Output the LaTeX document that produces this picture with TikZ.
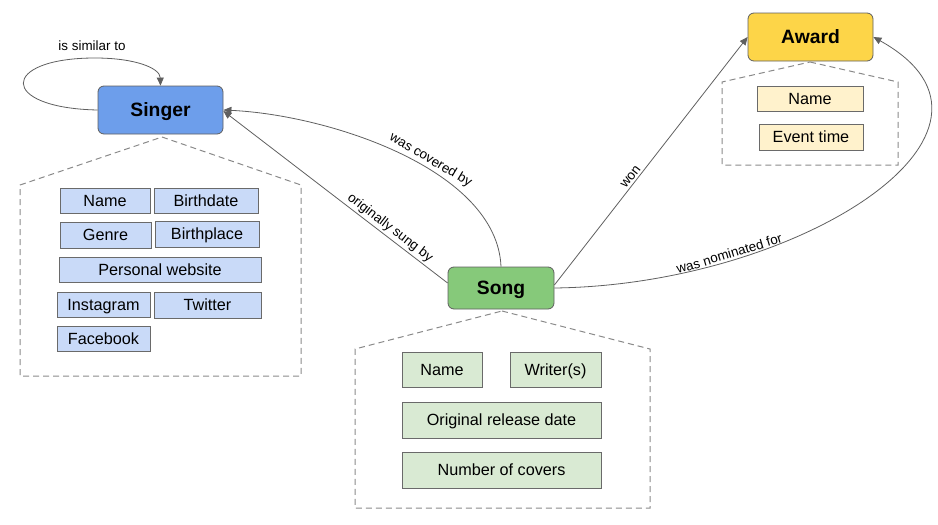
\documentclass[tikz,border=0pt]{standalone}
\usepackage{fontspec}
\setmainfont{Liberation Sans}
\usetikzlibrary{arrows.meta}
\definecolor{singerblue}{HTML}{6D9EEB}
\definecolor{songgreen}{HTML}{86C97A}
\definecolor{awardyellow}{HTML}{FDD548}
\definecolor{sattr}{HTML}{C9DAF8}
\definecolor{gattr}{HTML}{D9EAD3}
\definecolor{aattr}{HTML}{FFF2CC}
\definecolor{linegray}{HTML}{5F5F5F}
\definecolor{housegray}{HTML}{8A8A8A}
\definecolor{attrborder}{HTML}{6A6A6A}
\begin{document}
\begin{tikzpicture}[x=1pt,y=-1pt,
  mainnode/.style={draw=linegray, rounded corners=6pt, line width=0.8pt, inner sep=0pt,
    text height=13.8pt, text depth=0pt,
    font=\bfseries\fontsize{19.3}{21}\selectfont},
  attr/.style={draw=attrborder, line width=0.9pt, inner sep=0pt,
    text height=11.6pt, text depth=0pt,
    font=\fontsize{16.2}{18}\selectfont},
  edge/.style={draw=linegray, line width=0.8pt, -{Triangle[length=8pt,width=7pt]}},
  elabel/.style={font=\fontsize{13.4}{15}\selectfont, sloped, above, inner sep=2pt},
  house/.style={draw=housegray, line width=1pt, dash pattern=on 6pt off 4pt}]
\useasboundingbox (0,0) rectangle (938,525);

% houses
\draw[house] (162,137) -- (301,185) -- (301,376) -- (20,376) -- (20,185) -- cycle;
\draw[house] (502,311) -- (650,349) -- (650,508) -- (355,508) -- (355,349) -- cycle;
\draw[house] (810,62) -- (898,82) -- (898,165) -- (722,165) -- (722,82) -- cycle;

% main nodes
\node[mainnode, fill=singerblue, minimum width=125pt, minimum height=48pt] (singer) at (160.5,110) {Singer};
\node[mainnode, fill=songgreen, minimum width=106pt, minimum height=42pt] (song) at (501,288) {Song};
\node[mainnode, fill=awardyellow, minimum width=125pt, minimum height=48pt] (award) at (810.5,37) {Award};

% singer attributes
\node[attr, fill=sattr, minimum width=90pt, minimum height=25pt] (sname) at (105,200.5) {Name};
\node[attr, fill=sattr, minimum width=104pt, minimum height=25pt] (sbirthdate) at (206,200.5) {Birthdate};
\node[attr, fill=sattr, minimum width=91pt, minimum height=26pt] (sgenre) at (105.5,235) {Genre};
\node[attr, fill=sattr, minimum width=104pt, minimum height=26pt] (sbirthplace) at (207,234) {Birthplace};
\node[attr, fill=sattr, minimum width=202pt, minimum height=25pt] (swebsite) at (160,269.5) {Personal website};
\node[attr, fill=sattr, minimum width=93pt, minimum height=25pt] (sinsta) at (103.5,304.5) {Instagram};
\node[attr, fill=sattr, minimum width=107pt, minimum height=26pt] (stwitter) at (207.5,305) {Twitter};
\node[attr, fill=sattr, minimum width=93pt, minimum height=25pt] (sfacebook) at (103.5,338.5) {Facebook};

% song attributes
\node[attr, fill=gattr, minimum width=80pt, minimum height=35pt] (gname) at (442,369.5) {Name};
\node[attr, fill=gattr, minimum width=91pt, minimum height=35pt] (gwriter) at (555.5,369.5) {Writer(s)};
\node[attr, fill=gattr, minimum width=199pt, minimum height=36pt] (grelease) at (501.5,420) {Original release date};
\node[attr, fill=gattr, minimum width=199pt, minimum height=36pt] (gcovers) at (501.5,470) {Number of covers};

% award attributes
\node[attr, fill=aattr, minimum width=106pt, minimum height=25pt] (aname) at (810,98.5) {Name};
\node[attr, fill=aattr, minimum width=104pt, minimum height=26pt] (aevent) at (811,137) {Event time};

% edges
\draw[edge] (singer.west) .. controls (-2,108) and (0,58) .. (95,58)
  .. controls (135,58) and (160,68) .. (singer.north);
\node[font=\fontsize{13.4}{15}\selectfont] (simlabel) at (92,46) {is similar to};

\draw[edge] ([yshift=5pt]song.west) -- node[elabel, pos=0.28] {originally sung by} ([yshift=-1pt]singer.east);
\draw[edge] (song.north) .. controls (497,170) and (330,115) .. node[elabel, pos=0.42] {was covered by} (singer.east);
\draw[edge] ([yshift=3pt]song.east) -- node[elabel, pos=0.42] {won} (award.west);
\draw[edge] (song.east) .. controls (800,285) and (1040,130) .. node[elabel, pos=0.25] {was nominated for} (award.east);
\end{tikzpicture}
\end{document}
